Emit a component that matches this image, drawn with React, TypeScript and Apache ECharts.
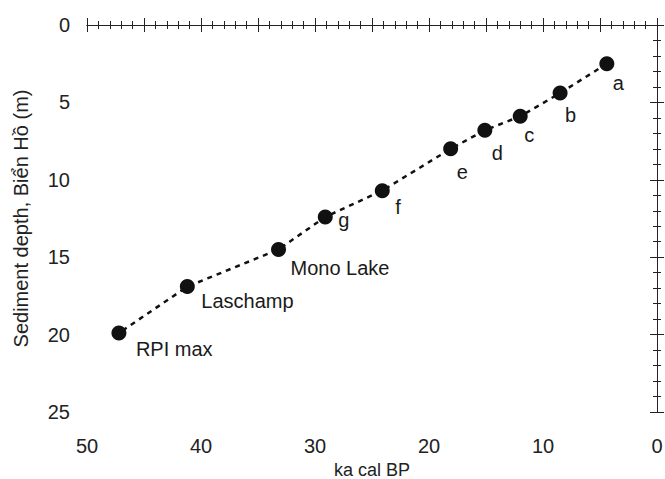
import React, { useEffect, useRef } from "react";
import * as echarts from "echarts";

const pointNames = ["a", "b", "c", "d", "e", "f", "g", "Mono Lake", "Laschamp", "RPI max"];
const ageKa = [4.4, 8.5, 12.0, 15.1, 18.1, 24.1, 29.1, 33.2, 41.2, 47.2];
const depthM = [2.5, 4.4, 5.9, 6.8, 8.0, 10.7, 12.4, 14.5, 16.9, 19.9];
const xTickLabels = [0, 10, 20, 30, 40, 50];
const yTickLabels = [0, 5, 10, 15, 20, 25];

// label offsets (styling): left edge dx, center dy relative to point center
const labelOffsets: [number, number][] = [
  [6, 19], [5, 22], [4, 19], [7, 23], [6, 23], [13, 16], [13, 3], [12, 19], [14, 14], [17, 16],
];

const FONT = "'Liberation Sans', Arial, Helvetica, sans-serif";
const AXIS_COLOR = "#222";

export default function App() {
  const ref = useRef<HTMLDivElement>(null);
  useEffect(() => {
    if (!ref.current) return;
    const chart = echarts.init(ref.current, undefined, { renderer: "svg" });
    const data = ageKa.map((x, i) => ({
      value: [x, depthM[i]],
      name: pointNames[i],
      label: {
        show: true,
        position: "inside",
        align: "left",
        verticalAlign: "middle",
        offset: labelOffsets[i],
        formatter: pointNames[i],
      },
    }));
    const axisLine = { show: true, lineStyle: { color: AXIS_COLOR, width: 1 } };
    const xCommon = {
      type: "value" as const,
      min: 0,
      max: 50,
      interval: 5,
      inverse: true,
      splitLine: { show: false },
      axisLine,
      minorTick: { show: true, splitNumber: 5, length: 4, lineStyle: { color: AXIS_COLOR } },
      axisTick: { show: true, length: 7, lineStyle: { color: AXIS_COLOR } },
    };
    const yCommon = {
      type: "value" as const,
      min: 0,
      max: 25,
      interval: 5,
      inverse: true,
      splitLine: { show: false },
      axisLine,
      minorTick: { show: true, splitNumber: 5, length: 4, lineStyle: { color: AXIS_COLOR } },
      axisTick: { show: true, length: 7, lineStyle: { color: AXIS_COLOR } },
    };
    chart.setOption({
      animation: false,
      backgroundColor: "#fff",
      textStyle: { fontFamily: FONT },
      grid: { left: 87, right: 8, top: 25, bottom: 67, containLabel: false, outerBoundsMode: "none" },
      xAxis: [
        {
          ...xCommon,
          position: "bottom",
          offset: 6,
          name: "ka cal BP",
          nameLocation: "middle",
          nameGap: 37,
          nameTextStyle: { fontSize: 18, color: AXIS_COLOR, fontFamily: FONT, lineHeight: 18 },
          axisLabel: {
            show: true,
            margin: 18,
            fontSize: 20,
            color: AXIS_COLOR,
            fontFamily: FONT,
            formatter: (v: number) => (xTickLabels.includes(v) ? String(v) : ""),
          },
        },
        {
          ...xCommon,
          position: "top",
          offset: 6,
          axisLabel: { show: false },
        },
      ],
      yAxis: [
        {
          ...yCommon,
          position: "left",
          offset: 3,
          name: "Sediment depth, Biển Hồ (m)",
          nameLocation: "middle",
          nameGap: 53,
          nameTextStyle: { fontSize: 20, color: AXIS_COLOR, fontFamily: FONT },
          axisLabel: {
            show: true,
            margin: 14,
            fontSize: 20,
            color: AXIS_COLOR,
            fontFamily: FONT,
            formatter: (v: number) => (yTickLabels.includes(v) ? String(v) : ""),
          },
        },
        {
          ...yCommon,
          position: "right",
          offset: 3,
          axisLabel: { show: false },
        },
      ],
      series: [
        {
          type: "line",
          xAxisIndex: 0,
          yAxisIndex: 0,
          data,
          symbol: "circle",
          symbolSize: 15,
          itemStyle: { color: "#111" },
          lineStyle: { color: "#111", width: 2.5, type: [5, 5] },
          label: { fontSize: 20, color: "#1a1a1a", fontFamily: FONT },
          emphasis: { disabled: true },
        },
      ],
    });
    return () => chart.dispose();
  }, []);
  return (
    <div
      ref={ref}
      style={{ position: "fixed", left: 0, top: 0, width: 665, height: 479, background: "#fff" }}
    />
  );
}
